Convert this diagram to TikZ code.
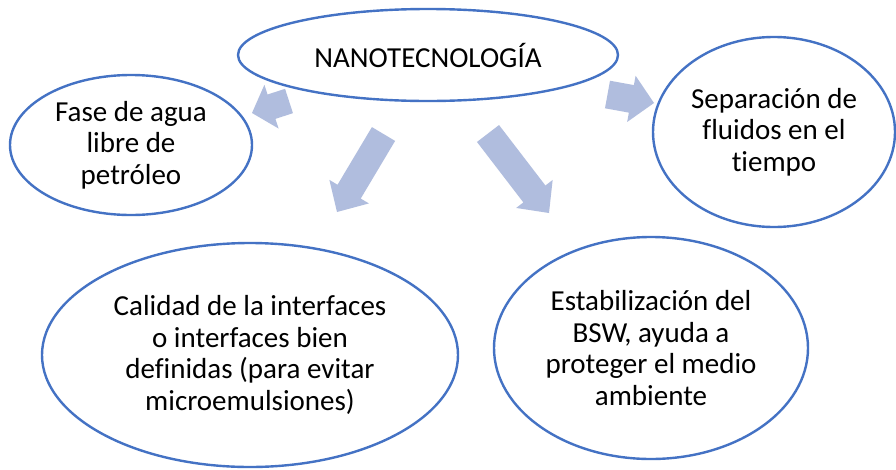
\documentclass[tikz,border=0pt]{standalone}
\usepackage{fontspec}
\setmainfont{Carlito}[Ligatures={NoCommon}]
\usetikzlibrary{shapes.geometric,calc}
\definecolor{ellblue}{RGB}{68,114,196}
\definecolor{arrfill}{RGB}{176,189,222}
\tikzset{
  oval/.style={ellipse, draw=ellblue, line width=2.4pt, inner sep=0pt, align=center,
    font=\fontsize{29}{31.5}\selectfont},
  blockarrow/.style={fill=arrfill, draw=none}
}
% #1 back coordinate, #2 tip coordinate, #3 half shaft width, #4 half head width, #5 head length
\newcommand\blockarr[5]{%
  \coordinate (#1neck) at ($(#2)!#5!(#1)$);
  \path[blockarrow] ($(#1)!#3!90:(#2)$) -- ($(#1neck)!#3!90:(#2)$) -- ($(#1neck)!#4!90:(#2)$)
    -- (#2) -- ($(#1neck)!#4!-90:(#2)$) -- ($(#1neck)!#3!-90:(#2)$) -- ($(#1)!#3!-90:(#2)$) -- cycle;
}
\begin{document}
\begin{tikzpicture}[x=1pt,y=-1pt]
\useasboundingbox (0,0) rectangle (896,469);
\fill[white] (0,0) rectangle (896,469);
% arrow anchors
\coordinate (a1b) at (289,101);   \coordinate (a1t) at (252,113);
\coordinate (a2b) at (383.5,134); \coordinate (a2t) at (337,212);
\coordinate (a3b) at (488,133.5); \coordinate (a3t) at (549,213);
\coordinate (a4b) at (607.5,94.5); \coordinate (a4t) at (654,103);
\blockarr{a1b}{a1t}{12.8pt}{23pt}{20.5pt}
\blockarr{a2b}{a2t}{13.5pt}{23pt}{23.7pt}
\blockarr{a3b}{a3t}{13.9pt}{23pt}{24pt}
\blockarr{a4b}{a4t}{14pt}{23.5pt}{23pt}
% ellipses
\node[oval, minimum width=380pt, minimum height=92pt] (nano) at (428,55) {NANOTECNOLOGÍA};
\node[oval, minimum width=242pt, minimum height=140pt] (fase) at (131,145) {Fase de agua\\libre de\\petróleo};
\node[oval, minimum width=242pt, minimum height=190pt] (sep) at (774,132) {Separación de\\fluidos en el\\tiempo};
\node[oval, minimum width=416pt, minimum height=224pt] (cal) at (250,355) {Calidad de la interfaces\\o interfaces bien\\definidas (para evitar\\microemulsiones)};
\node[oval, minimum width=314pt, minimum height=222pt] (est) at (651,348) {Estabilización del\\BSW, ayuda a\\proteger el medio\\ambiente};
\end{tikzpicture}
\end{document}
